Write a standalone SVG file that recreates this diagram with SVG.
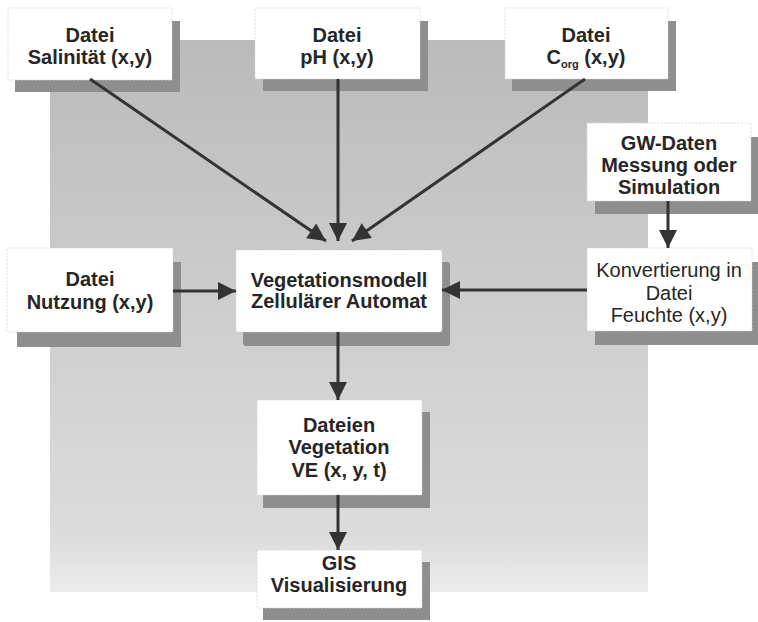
<svg xmlns="http://www.w3.org/2000/svg" width="758" height="622" viewBox="0 0 758 622">
<defs>
<linearGradient id="bg" x1="0" y1="0" x2="0" y2="1">
<stop offset="0" stop-color="#bababa"/>
<stop offset="0.5" stop-color="#cecece"/>
<stop offset="0.9" stop-color="#dcdcdc"/>
<stop offset="1" stop-color="#ececec"/>
</linearGradient>
<marker id="ah" viewBox="0 0 10 10" refX="10" refY="5" markerWidth="6.8" markerHeight="6" markerUnits="strokeWidth" orient="auto">
<path d="M0,0 L10,5 L0,10 Z" fill="#333"/>
</marker>
<style>
.box{fill:#fff;stroke:#d4d4d4;stroke-width:0.8;stroke-dasharray:2 1.5}
.sh{fill:#8e8e8e}
.t{font-family:"Liberation Sans",Arial,sans-serif;font-size:20px;font-weight:bold;fill:#262626;text-anchor:middle}
.r{font-weight:normal}
.sub{font-size:11px;font-weight:bold}
.c{stroke:#333;stroke-width:3;fill:none;marker-end:url(#ah)}
</style>
</defs>
<rect x="50" y="40" width="598" height="552" fill="url(#bg)"/>

<g id="salinitaet">
<rect class="sh" x="15" y="21" width="165" height="71"/>
<rect class="box" x="8" y="8" width="164" height="72"/>
<text class="t" x="90" y="42">Datei</text>
<text class="t" x="90" y="64">Salinität (x,y)</text>
</g>
<g id="ph">
<rect class="sh" x="263" y="21" width="165" height="70"/>
<rect class="box" x="255" y="8" width="165" height="71"/>
<text class="t" x="337" y="42">Datei</text>
<text class="t" x="337" y="64">pH (x,y)</text>
</g>
<g id="corg">
<rect class="sh" x="512" y="21" width="164" height="70"/>
<rect class="box" x="505" y="8" width="163" height="71"/>
<text class="t" x="586" y="42">Datei</text>
<text class="t" x="586" y="64">C<tspan class="sub" dy="4">org</tspan><tspan dy="-4"> (x,y)</tspan></text>
</g>
<g id="gw">
<rect class="sh" x="595" y="137" width="163" height="77"/>
<rect class="box" x="587" y="123" width="164" height="78"/>
<text class="t" x="669" y="150">GW-Daten</text>
<text class="t" x="669" y="172">Messung oder</text>
<text class="t" x="669" y="194">Simulation</text>
</g>
<g id="nutzung">
<rect class="sh" x="17" y="262" width="164" height="85"/>
<rect class="box" x="7" y="248" width="166" height="84"/>
<text class="t" x="90" y="286">Datei</text>
<text class="t" x="90" y="309">Nutzung (x,y)</text>
</g>
<g id="vegmodell">
<rect class="sh" x="243" y="262" width="207" height="84" rx="3"/>
<rect class="box" x="236" y="250" width="206" height="82" rx="2"/>
<text class="t" x="339" y="287">Vegetationsmodell</text>
<text class="t" x="339" y="308">Zellulärer Automat</text>
</g>
<g id="konvertierung">
<rect class="sh" x="595" y="262" width="163" height="83"/>
<rect class="box" x="587" y="248" width="165" height="83"/>
<text class="t r" x="669" y="277">Konvertierung in</text>
<text class="t r" x="669" y="300">Datei</text>
<text class="t r" x="669" y="322">Feuchte (x,y)</text>
</g>
<g id="dateien">
<rect class="sh" x="263" y="412" width="167" height="96"/>
<rect class="box" x="257" y="400" width="165" height="95"/>
<text class="t" x="339" y="432">Dateien</text>
<text class="t" x="339" y="454">Vegetation</text>
<text class="t" x="339" y="477">VE (x, y, t)</text>
</g>
<g id="gis">
<rect class="sh" x="263" y="562" width="167" height="58"/>
<rect class="box" x="257" y="550" width="165" height="58"/>
<text class="t" x="339" y="570">GIS</text>
<text class="t" x="339" y="592">Visualisierung</text>
</g>

<g id="connectors">
<line class="c" x1="90" y1="79" x2="326" y2="241"/>
<line class="c" x1="338" y1="79" x2="338" y2="241"/>
<line class="c" x1="585" y1="79" x2="352" y2="241"/>
<line class="c" x1="668" y1="201" x2="668" y2="248"/>
<line class="c" x1="173" y1="291" x2="236" y2="291"/>
<line class="c" x1="587" y1="290" x2="442" y2="290"/>
<line class="c" x1="338" y1="332" x2="338" y2="400"/>
<line class="c" x1="338" y1="495" x2="338" y2="550"/>
</g>
</svg>
